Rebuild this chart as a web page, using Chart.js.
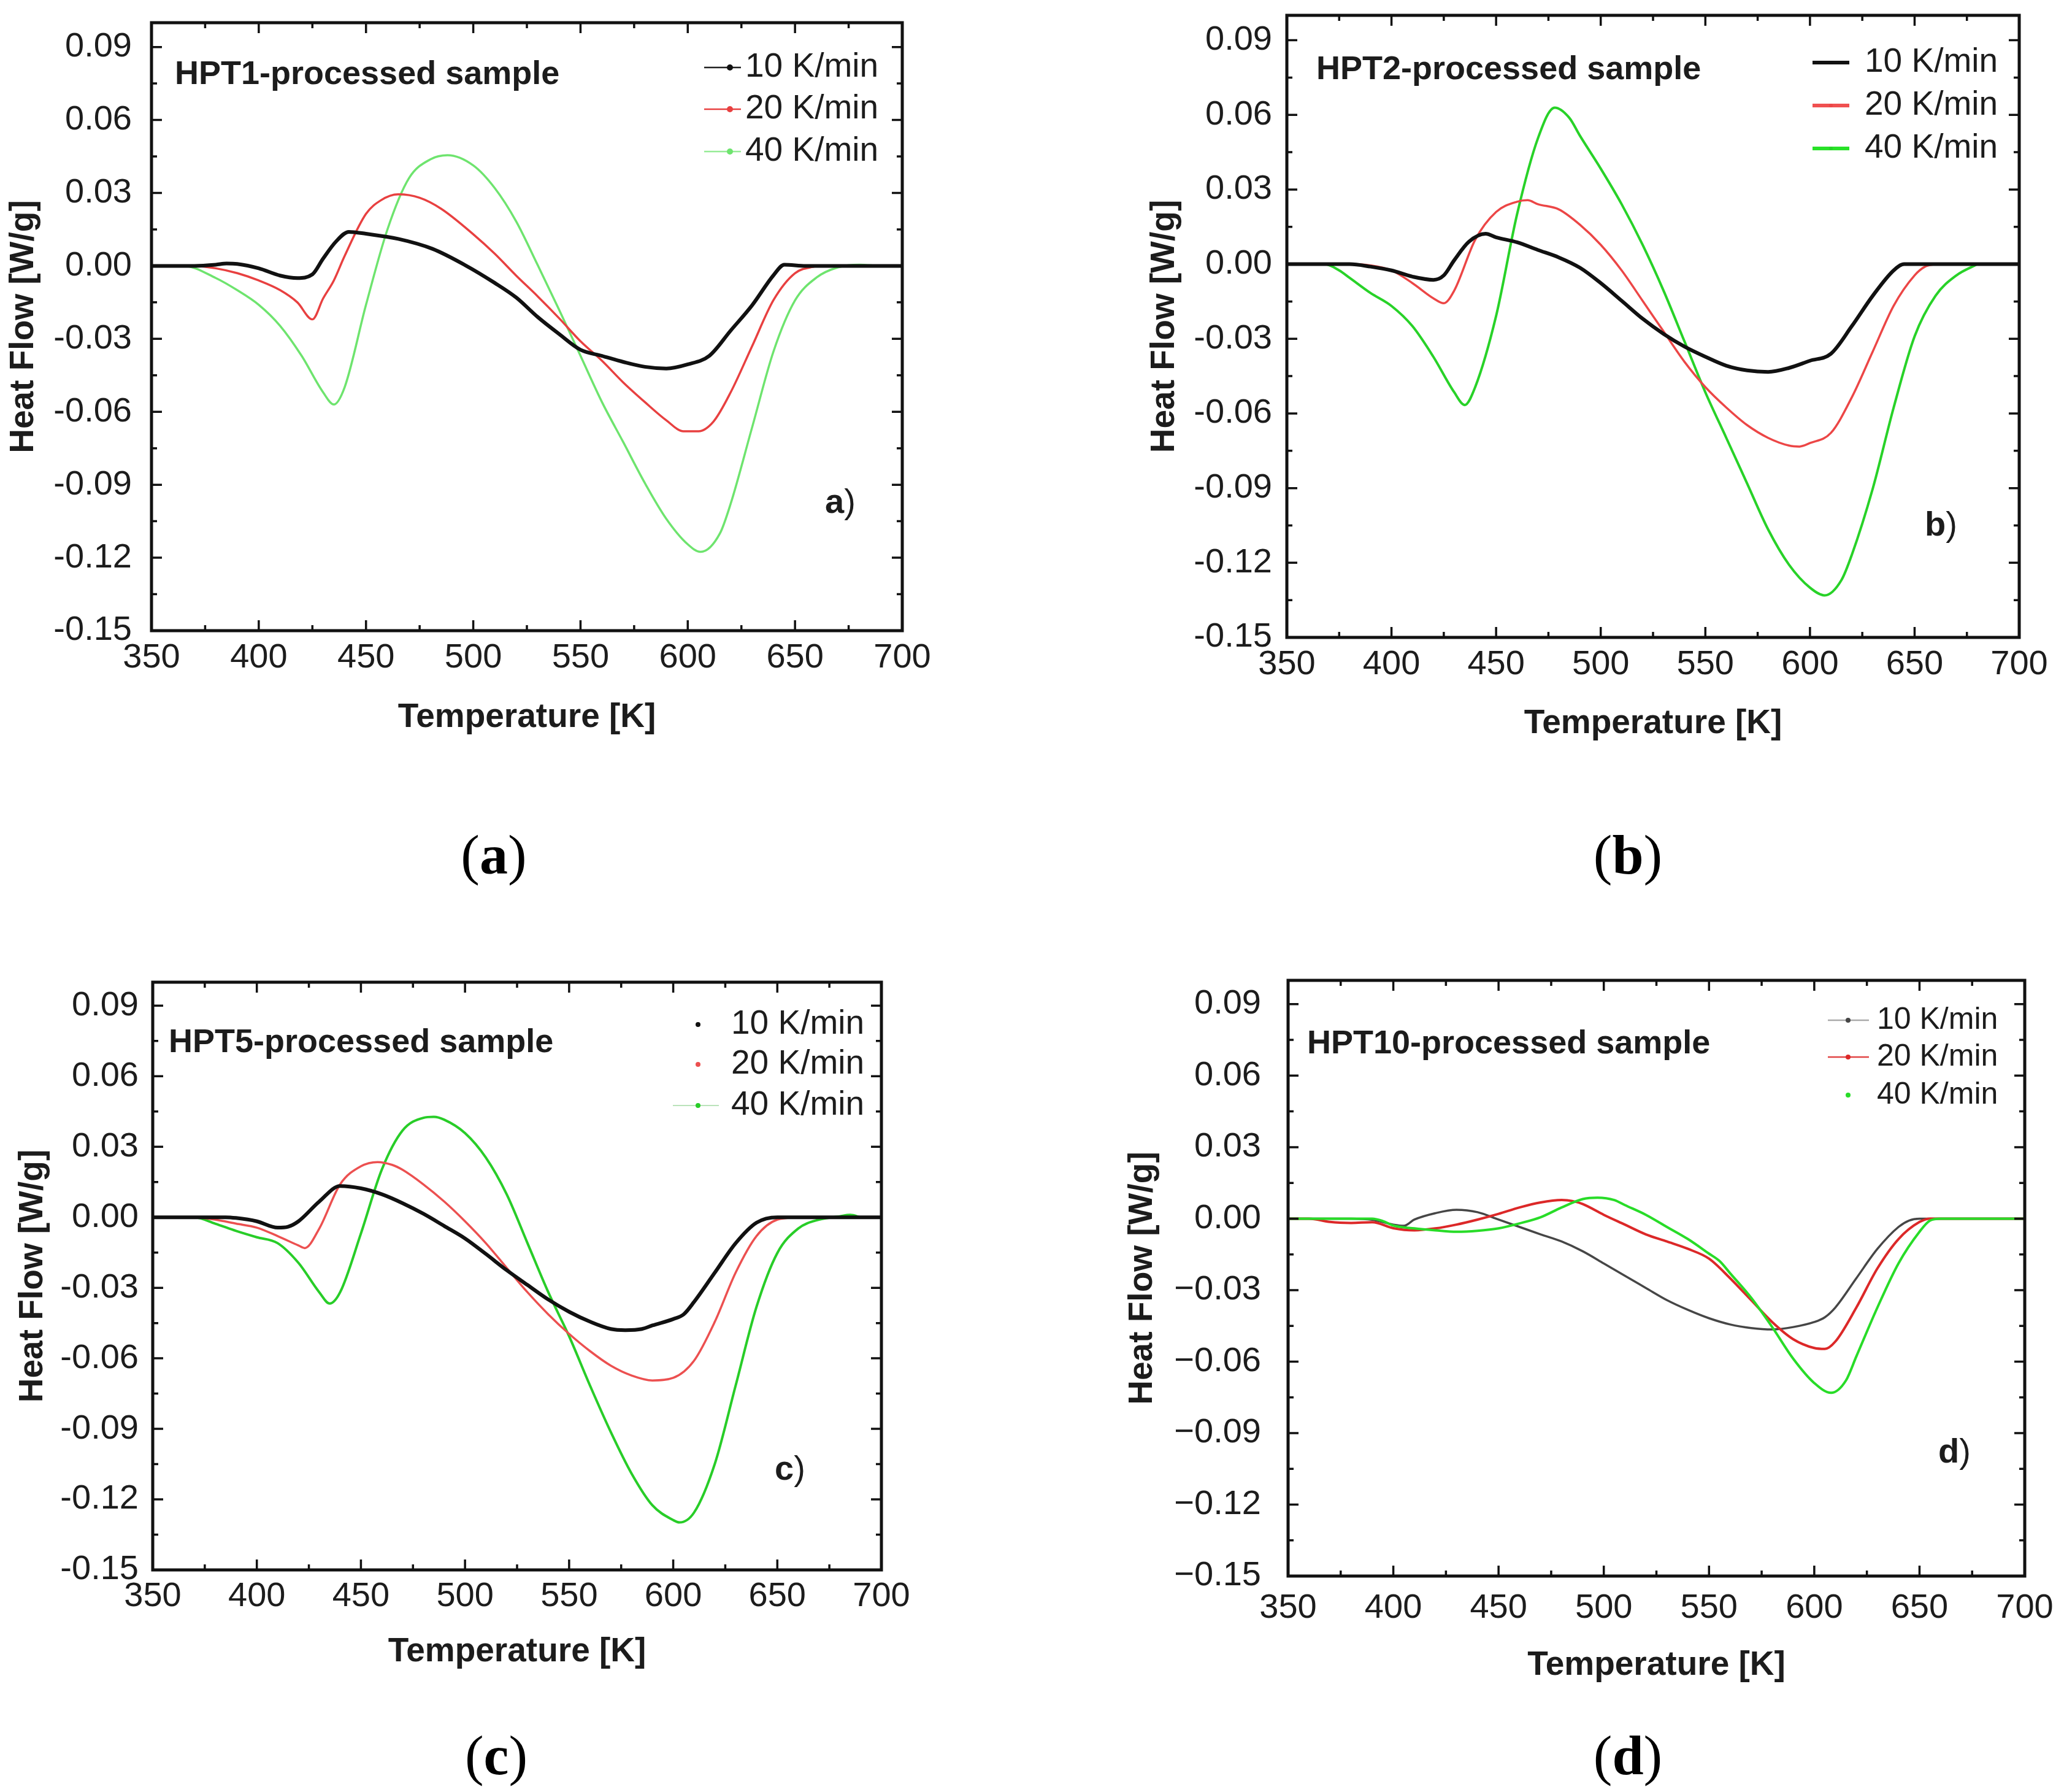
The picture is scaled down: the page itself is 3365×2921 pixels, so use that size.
<!DOCTYPE html>
<html><head><meta charset="utf-8">
<script src="https://cdn.jsdelivr.net/npm/chart.js@4.4.0/dist/chart.umd.min.js"></script>
<style>
html,body{margin:0;padding:0;background:#fff;}
body{width:3365px;height:2921px;position:relative;overflow:hidden;}
canvas{position:absolute;}
.cap{position:absolute;font-family:"Liberation Serif","Times New Roman",serif;font-size:92px;color:#000;transform:translate(-50%,-50%);line-height:1;white-space:nowrap;}
.cap b{font-weight:bold;}
</style></head><body>
<canvas id="ca"></canvas>
<canvas id="cb"></canvas>
<canvas id="cc"></canvas>
<canvas id="cd"></canvas>
<div class="cap" style="left:805px;top:1393px">(<b>a</b>)</div>
<div class="cap" style="left:2654px;top:1393px">(<b>b</b>)</div>
<div class="cap" style="left:809px;top:2861px">(<b>c</b>)</div>
<div class="cap" style="left:2654px;top:2861px">(<b>d</b>)</div>
<script>
// ---------- tick labels ----------
const xTickVals = [350, 400, 450, 500, 550, 600, 650, 700];
const yTickVals = [-0.15, -0.12, -0.09, -0.06, -0.03, 0.00, 0.03, 0.06, 0.09];
const seriesLabels = ['10 K/min', '20 K/min', '40 K/min'];
const sampleNames = ['HPT1-processed sample', 'HPT2-processed sample', 'HPT5-processed sample', 'HPT10-processed sample'];
const panelLetters = ['a', 'b', 'c', 'd'];

// ---------- panel a (HPT1) ----------
const a10T = [350,370,380,385,390,400,410,418,425,430,436,442,450,465,481,496,510,520,530,540,550,560,570,580,590,600,610,620,630,640,645,655,700];
const a10Y = [0,0,0.0005,0.001,0.0008,-0.001,-0.004,-0.005,-0.0035,0.003,0.010,0.014,0.0132,0.0111,0.007,0.0004,-0.007,-0.013,-0.021,-0.028,-0.0345,-0.037,-0.0395,-0.0415,-0.0422,-0.0405,-0.037,-0.0266,-0.0162,-0.0038,0.0005,0,0];
const a20T = [350,370,380,390,400,410,418,425,430,435,440,450,457,465,475,485,500,510,520,530,540,550,560,570,580,590,598,605,612,620,630,640,650,660];
const a20Y = [0,0,-0.001,-0.003,-0.006,-0.010,-0.015,-0.022,-0.0134,-0.006,0.004,0.0214,0.027,0.0294,0.028,0.0235,0.013,0.005,-0.004,-0.0125,-0.0215,-0.031,-0.039,-0.048,-0.056,-0.0635,-0.068,-0.068,-0.064,-0.052,-0.033,-0.014,-0.003,0];
const a40T = [352,365,380,390,400,410,420,430,435,440,450,460,470,480,488,500,510,520,530,540,550,560,570,580,590,600,606,615,620,630,640,650,660,670,680,688];
const a40Y = [0,0,-0.005,-0.010,-0.016,-0.0247,-0.037,-0.052,-0.057,-0.050,-0.016,0.015,0.036,0.0438,0.0455,0.0413,0.032,0.0183,0.0004,-0.018,-0.037,-0.056,-0.0726,-0.0893,-0.104,-0.1145,-0.1176,-0.110,-0.0978,-0.0664,-0.0351,-0.0142,-0.0048,-0.0006,0.0005,0];

// ---------- panel b (HPT2) ----------
const b10T = [350,380,390,400,410,420,425,430,437,445,450,460,470,480,490,500,510,520,530,540,550,560,570,580,590,600,610,620,630,640,645,700];
const b10Y = [0,0,-0.001,-0.0025,-0.005,-0.0063,-0.0045,0.0016,0.009,0.0122,0.0108,0.0088,0.0057,0.0027,-0.0014,-0.0076,-0.0147,-0.0219,-0.028,-0.0331,-0.0372,-0.0408,-0.0427,-0.0433,-0.0417,-0.0388,-0.036,-0.0249,-0.0127,-0.0025,0,0];
const b20T = [350,380,390,400,410,420,425,430,440,450,460,465,470,480,490,500,510,520,530,540,550,560,570,580,590,595,600,610,620,630,640,650,655,660];
const b20Y = [0,0,-0.0005,-0.0025,-0.0076,-0.0137,-0.0157,-0.0106,0.0098,0.021,0.0251,0.0257,0.0241,0.022,0.0159,0.0078,-0.0025,-0.0147,-0.027,-0.0392,-0.0494,-0.0576,-0.0647,-0.0698,-0.0729,-0.0733,-0.0719,-0.0678,-0.0535,-0.0351,-0.0167,-0.0045,-0.001,0];
const b40T = [352,368,375,380,390,400,410,420,430,435,440,450,460,470,478,485,490,500,510,520,530,540,550,560,570,580,590,600,607,615,620,630,640,650,660,670,680];
const b40Y = [0,0,-0.0025,-0.0055,-0.0116,-0.0168,-0.0249,-0.0372,-0.0515,-0.0566,-0.0494,-0.0208,0.020,0.0506,0.0629,0.0588,0.0517,0.0384,0.0241,0.0078,-0.0106,-0.031,-0.0515,-0.0698,-0.0882,-0.1066,-0.1208,-0.130,-0.1331,-0.127,-0.1168,-0.0902,-0.0576,-0.029,-0.0127,-0.0045,0];

// ---------- panel c (HPT5) ----------
const c10T = [350,385,390,400,410,415,420,430,440,450,460,470,480,490,500,510,520,530,540,550,560,570,577,585,590,600,605,610,620,630,640,650,700];
const c10Y = [0,0,-0.0003,-0.0017,-0.0044,-0.004,-0.0017,0.0067,0.0133,0.0123,0.0098,0.006,0.0015,-0.0037,-0.009,-0.0156,-0.0225,-0.0288,-0.035,-0.0402,-0.0444,-0.0475,-0.048,-0.0475,-0.046,-0.0433,-0.0413,-0.036,-0.0235,-0.011,-0.0023,0,0];
const c20T = [350,370,380,390,400,410,420,423,430,440,450,458,465,470,480,490,500,510,520,530,540,550,560,570,580,590,600,610,620,630,640,650,660];
const c20Y = [0,0,-0.001,-0.0027,-0.0044,-0.008,-0.012,-0.0131,-0.0048,0.014,0.0217,0.0235,0.0223,0.0202,0.014,0.0067,-0.0017,-0.011,-0.0215,-0.0319,-0.0413,-0.0496,-0.0569,-0.0631,-0.0673,-0.0694,-0.0683,-0.061,-0.0444,-0.0235,-0.008,-0.001,0];
const c40T = [352,370,380,390,400,410,420,430,435,440,450,460,470,480,485,490,500,510,520,530,540,550,560,570,580,590,600,603,610,620,630,640,650,660,670,680,685,690];
const c40Y = [0,0,-0.0027,-0.0058,-0.0085,-0.011,-0.0194,-0.0319,-0.0367,-0.0319,-0.0069,0.0202,0.0369,0.0423,0.0427,0.0415,0.0358,0.0254,0.0098,-0.011,-0.0319,-0.0506,-0.0715,-0.0913,-0.109,-0.1225,-0.1288,-0.1298,-0.1256,-0.1048,-0.0715,-0.0381,-0.0152,-0.0048,-0.001,0.0004,0.001,0];

// ---------- panel d (HPT10) ----------
const d10T = [350,380,390,400,405,410,420,430,440,450,460,470,480,490,500,510,520,530,540,550,560,570,580,590,600,605,610,620,630,640,645,650,700];
const d10Y = [0,0,-0.0005,-0.0025,-0.003,-0.0004,0.0023,0.0037,0.0027,-0.0004,-0.0035,-0.0066,-0.0096,-0.0137,-0.0188,-0.024,-0.0291,-0.0342,-0.0383,-0.0418,-0.0444,-0.0459,-0.0465,-0.0455,-0.0434,-0.0414,-0.0373,-0.025,-0.0127,-0.0035,-0.0008,0,0];
const d20T = [350,360,370,380,390,400,410,420,430,440,450,460,470,480,485,490,500,510,520,530,540,550,560,570,580,590,600,605,610,620,630,640,650,655,700];
const d20Y = [0,0,-0.0014,-0.0018,-0.0015,-0.004,-0.0049,-0.0041,-0.0025,-0.0004,0.002,0.0047,0.0068,0.0078,0.0074,0.0061,0.0016,-0.0025,-0.0066,-0.0096,-0.0127,-0.0168,-0.025,-0.0342,-0.0434,-0.0506,-0.0543,-0.0547,-0.0516,-0.0373,-0.0209,-0.0086,-0.0014,0,0];
const d40T = [350,390,395,400,410,420,430,440,450,460,470,480,490,497,505,510,520,530,540,550,555,560,570,580,590,600,608,615,620,630,640,650,655,660,700];
const d40Y = [0,0,-0.001,-0.0029,-0.0041,-0.0049,-0.0055,-0.0051,-0.0041,-0.002,0.0006,0.0047,0.0082,0.0088,0.0078,0.0057,0.0016,-0.0035,-0.0086,-0.0147,-0.0178,-0.0229,-0.0332,-0.0455,-0.0588,-0.069,-0.0731,-0.068,-0.0578,-0.0373,-0.0188,-0.0055,-0.0008,0,0];

const FONT = '"Liberation Sans", Arial, Helvetica, sans-serif';
const TXT = '#1c1c1c';
const TICK_SIZE = 56;

function pts(T, Y) { return T.map((t, i) => ({ x: t, y: Y[i] })); }

const panels = [
  { id: 'ca', cv: { x: 0, y: 0, w: 1560, h: 1300 }, plot: { l: 247, t: 37, r: 1471, b: 1028 },
    yPad: 32, xPad: 17, yTitleX: 39, xTitleY: 1170, minus: '-',
    series: [
      { T: a10T, Y: a10Y, color: '#111111', w: 6, order: 0 },
      { T: a20T, Y: a20Y, color: 'rgb(232,64,64)', w: 3.5, order: 1 },
      { T: a40T, Y: a40Y, color: 'rgb(110,228,110)', w: 3.5, order: 2 }],
    name: { x: 285, y: 122 },
    legend: { rows: [110, 178, 247], x1: 1148, x2: 1208, mx: 1190, tx: 1215, size: 55, lw: 2.5, mr: 5, line: [true, true, true], lineColors: ['#222', 'rgb(232,64,64)', 'rgb(150,235,150)'] },
    letter: { x: 1345, y: 821 } },
  { id: 'cb', cv: { x: 1690, y: 0, w: 1675, h: 1300 }, plot: { l: 2098, t: 25, r: 3292, b: 1039 },
    yPad: 24, xPad: 17, yTitleX: 1899, xTitleY: 1180, minus: '-',
    series: [
      { T: b10T, Y: b10Y, color: '#111111', w: 6, order: 0 },
      { T: b20T, Y: b20Y, color: 'rgb(236,70,70)', w: 3.5, order: 1 },
      { T: b40T, Y: b40Y, color: 'rgb(40,210,40)', w: 4, order: 2 }],
    name: { x: 2146, y: 114 },
    legend: { rows: [102, 172, 242], x1: 2955, x2: 3015, mx: 2985, tx: 3040, size: 55, lw: 6, mr: 3, line: [true, true, true], lineColors: ['#111', 'rgb(240,80,80)', 'rgb(40,225,40)'] },
    letter: { x: 3138, y: 858 } },
  { id: 'cc', cv: { x: 0, y: 1500, w: 1560, h: 1300 }, plot: { l: 249, t: 1601, r: 1437, b: 2559 },
    yPad: 23, xPad: 16, yTitleX: 54, xTitleY: 2693, minus: '-',
    series: [
      { T: c10T, Y: c10Y, color: '#111111', w: 6, order: 0 },
      { T: c20T, Y: c20Y, color: 'rgb(236,80,80)', w: 3.5, order: 1 },
      { T: c40T, Y: c40Y, color: 'rgb(40,205,40)', w: 4, order: 2 }],
    name: { x: 275, y: 1700 },
    legend: { rows: [1670, 1735, 1802], x1: 1097, x2: 1172, mx: 1138, tx: 1192, size: 55, lw: 2, mr: 4, line: [false, false, true], lineColors: ['#111', 'rgb(236,80,80)', 'rgba(120,200,120,0.5)'] },
    letter: { x: 1263, y: 2397 } },
  { id: 'cd', cv: { x: 1690, y: 1500, w: 1675, h: 1300 }, plot: { l: 2100, t: 1598, r: 3301, b: 2569 },
    yPad: 44, xPad: 25, yTitleX: 1863, xTitleY: 2715, minus: '\u2212',
    series: [
      { T: d10T, Y: d10Y, color: 'rgb(70,70,70)', w: 3.5, order: 2 },
      { T: d20T, Y: d20Y, color: 'rgb(220,40,40)', w: 4, order: 1 },
      { T: d40T, Y: d40Y, color: 'rgb(40,220,40)', w: 4, order: 0 }],
    name: { x: 2131, y: 1702 },
    legend: { rows: [1663, 1723, 1785], x1: 2980, x2: 3047, mx: 3013, tx: 3060, size: 50, lw: 2.5, mr: 4, line: [true, true, false], lineColors: ['#aaaaaa', 'rgb(225,70,70)', 'rgb(40,220,40)'] },
    letter: { x: 3160, y: 2369 } }
];

const framePlugin = {
  id: 'frame',
  afterDatasetsDraw(chart, args, opts) {
    const p = opts.panel; const idx = opts.idx;
    const ctx = chart.ctx; const ca = chart.chartArea;
    const xs = chart.scales.x, ys = chart.scales.y;
    const ox = p.cv.x, oy = p.cv.y;
    ctx.save();
    ctx.strokeStyle = '#111'; ctx.lineCap = 'butt';
    // inward ticks
    ctx.lineWidth = 3.5;
    const major = 17, minor = 9;
    ctx.beginPath();
    for (let i = 0; i < xTickVals.length; i++) {
      const v = xTickVals[i];
      const px = xs.getPixelForValue(v);
      ctx.moveTo(px, ca.bottom); ctx.lineTo(px, ca.bottom - major);
      ctx.moveTo(px, ca.top); ctx.lineTo(px, ca.top + major);
      if (i < xTickVals.length - 1) {
        const m = xs.getPixelForValue((v + xTickVals[i + 1]) / 2);
        ctx.moveTo(m, ca.bottom); ctx.lineTo(m, ca.bottom - minor);
        ctx.moveTo(m, ca.top); ctx.lineTo(m, ca.top + minor);
      }
    }
    for (let i = 0; i < yTickVals.length; i++) {
      const v = yTickVals[i];
      const py = ys.getPixelForValue(v);
      ctx.moveTo(ca.left, py); ctx.lineTo(ca.left + major, py);
      ctx.moveTo(ca.right, py); ctx.lineTo(ca.right - major, py);
      if (v + 0.015 < 0.1) {
        const m = ys.getPixelForValue(v + 0.015);
        ctx.moveTo(ca.left, m); ctx.lineTo(ca.left + minor, m);
        ctx.moveTo(ca.right, m); ctx.lineTo(ca.right - minor, m);
      }
    }
    ctx.stroke();
    // frame
    ctx.lineWidth = 5;
    ctx.strokeRect(ca.left, ca.top, ca.right - ca.left, ca.bottom - ca.top);

    // sample name
    ctx.fillStyle = TXT; ctx.textBaseline = 'middle'; ctx.textAlign = 'left';
    ctx.font = 'bold 54px ' + FONT;
    ctx.fillText(sampleNames[idx], p.name.x - ox, p.name.y - oy);

    // legend
    const L = p.legend;
    chart.data.datasets.forEach((ds, i) => {
      const ry = L.rows[i] - oy;
      if (L.line[i]) {
        ctx.strokeStyle = L.lineColors[i]; ctx.lineWidth = L.lw;
        ctx.beginPath(); ctx.moveTo(L.x1 - ox, ry); ctx.lineTo(L.x2 - ox, ry); ctx.stroke();
      }
      ctx.fillStyle = ds.borderColor;
      ctx.beginPath(); ctx.arc(L.mx - ox, ry, L.mr, 0, Math.PI * 2); ctx.fill();
      ctx.fillStyle = TXT; ctx.font = L.size + 'px ' + FONT;
      ctx.fillText(ds.label, L.tx - ox, ry);
    });

    // panel letter
    ctx.font = 'bold 56px ' + FONT;
    const lt = panelLetters[idx];
    ctx.fillText(lt, p.letter.x - ox, p.letter.y - oy);
    const w = ctx.measureText(lt).width;
    ctx.font = '56px ' + FONT;
    ctx.fillText(')', p.letter.x - ox + w, p.letter.y - oy);
    ctx.restore();
  }
};

panels.forEach((p, idx) => {
  const cv = document.getElementById(p.id);
  cv.width = p.cv.w; cv.height = p.cv.h;
  cv.style.left = p.cv.x + 'px'; cv.style.top = p.cv.y + 'px';
  cv.style.width = p.cv.w + 'px'; cv.style.height = p.cv.h + 'px';
  const yAxisW = p.plot.l - p.cv.x;
  const xAxisH = p.cv.y + p.cv.h - p.plot.b;
  const datasets = p.series.map((s, i) => ({
    label: seriesLabels[i],
    data: pts(s.T, s.Y),
    borderColor: s.color,
    backgroundColor: s.color,
    borderWidth: s.w,
    pointRadius: 0,
    fill: false,
    tension: 0.4,
    cubicInterpolationMode: 'monotone',
    order: s.order
  }));
  new Chart(cv, {
    type: 'line',
    data: { datasets },
    plugins: [framePlugin],
    options: {
      responsive: false,
      animation: false,
      devicePixelRatio: 1,
      layout: { padding: { left: 0, top: p.plot.t - p.cv.y, right: p.cv.x + p.cv.w - p.plot.r, bottom: 0 } },
      plugins: {
        legend: { display: false },
        tooltip: { enabled: false },
        frame: { panel: p, idx: idx }
      },
      scales: {
        x: {
          type: 'linear', min: 350, max: 700,
          afterBuildTicks: s => { s.ticks = xTickVals.map(v => ({ value: v })); },
          afterFit: s => { s.height = xAxisH; s.paddingLeft = 0; s.paddingRight = 0; s.paddingTop = 0; s.paddingBottom = 0; },
          grid: { display: false, drawTicks: false },
          border: { display: false },
          ticks: { autoSkip: false, maxRotation: 0, padding: p.xPad, color: TXT,
                   font: { family: FONT, size: TICK_SIZE, lineHeight: 1 },
                   callback: v => String(v) },
          title: { display: true, text: 'Temperature [K]', color: TXT,
                   font: { family: FONT, size: 55, weight: 'bold', lineHeight: 1.2 },
                   padding: { top: 0, bottom: p.cv.y + p.cv.h - p.xTitleY - 33 } }
        },
        y: {
          type: 'linear', min: -0.15, max: 0.1,
          afterBuildTicks: s => { s.ticks = yTickVals.map(v => ({ value: v })); },
          afterFit: s => { s.width = yAxisW; s.paddingTop = 0; s.paddingBottom = 0; s.paddingLeft = 0; s.paddingRight = 0; },
          grid: { display: false, drawTicks: false },
          border: { display: false },
          ticks: { autoSkip: false, padding: p.yPad, color: TXT,
                   font: { family: FONT, size: TICK_SIZE, lineHeight: 1 },
                   callback: v => (Math.abs(v) < 1e-9 ? 0 : v).toFixed(2).replace('-', p.minus) },
          title: { display: true, text: 'Heat Flow [W/g]', color: TXT,
                   font: { family: FONT, size: 55, weight: 'bold', lineHeight: 1.2 },
                   padding: { top: p.yTitleX - p.cv.x - 33, bottom: 0 } }
        }
      }
    }
  });
});
</script>
</body></html>
